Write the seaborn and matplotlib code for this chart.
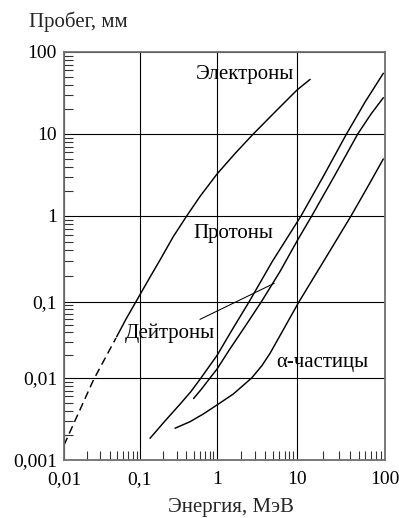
import numpy as np
import matplotlib
matplotlib.use("Agg")
import matplotlib.pyplot as plt
from matplotlib.ticker import FixedLocator, NullFormatter
import seaborn as sns

# ---------------- data ----------------
x_ticks = [0.01, 0.1, 1, 10, 100]
x_tick_labels = ["0,01", "0,1", "1", "10", "100"]
y_ticks = [0.001, 0.01, 0.1, 1, 10, 100]
y_tick_labels = ["0,001", "0,01", "0,1", "1", "10", "100"]

electron_dash_E = [0.01, 0.0244, 0.0483]
electron_dash_R = [0.00152, 0.00946, 0.0336]
electron_E = [0.0493, 0.0655, 0.0886, 0.135, 0.182, 0.270, 0.404, 0.601, 1.0,
              1.68, 2.84, 5.47, 10, 14.1]
electron_R = [0.0349, 0.0597, 0.101, 0.195, 0.308, 0.574, 1.0, 1.73, 3.25,
              5.78, 10, 19.1, 34.4, 46.4]

proton_E = [0.135, 0.211, 0.330, 0.459, 0.619, 1.0, 1.54, 2.51, 4.87, 11.1,
            20.0, 36.5, 59.3, 95.7]
proton_R = [0.00184, 0.00299, 0.00478, 0.00684, 0.01, 0.0198, 0.0428, 0.1,
            0.292, 1.0, 3.07, 10, 24.5, 55]

deuteron_E = [0.496, 0.638, 0.811, 1.0, 1.45, 2.24, 3.57, 6.13, 10, 14.7,
              27.0, 49, 69.3, 95.7]
deuteron_R = [0.00562, 0.00745, 0.01, 0.0131, 0.0241, 0.0476, 0.1, 0.226,
              0.511, 1.0, 3.16, 10, 17.5, 27.7]

alpha_E = [0.285, 0.446, 0.664, 1.0, 1.60, 2.71, 3.62, 4.60, 7.08, 10.5,
           20.8, 41.1, 62.4, 95.7]
alpha_R = [0.00244, 0.00293, 0.00364, 0.00469, 0.00638, 0.01, 0.0144, 0.0211,
           0.0473, 0.1, 0.316, 1.0, 2.19, 4.96]

pointer_E = [0.601, 5.2]
pointer_R = [0.0591, 0.165]

curve_labels = ["Электроны", "Протоны", "Дейтроны", "α-частицы"]
x_label = "Энергия, МэВ"
y_label = "Пробег, мм"

# ---------------- style ----------------
sns.set_theme(style="white")
plt.rcParams["font.family"] = ["Liberation Serif", "DejaVu Serif"]
plt.rcParams["axes.unicode_minus"] = False

W, H = 399, 518
fig = plt.figure(figsize=(W / 100, H / 100), dpi=100)
ax = fig.add_axes([64 / W, 1 - 460 / H, (385 - 64) / W, (460 - 52) / H])


# log scales calibrated to the (slightly uneven) decades of the drawing
def make_scale(knots_l, knots_p):
    kl = np.asarray(knots_l, float)
    kp = np.asarray(knots_p, float)
    s0 = (kp[1] - kp[0]) / (kl[1] - kl[0])
    s1 = (kp[-1] - kp[-2]) / (kl[-1] - kl[-2])

    def fwd(v):
        v = np.asarray(v, float)
        with np.errstate(divide="ignore", invalid="ignore"):
            l = np.log10(np.where(v > 0, v, np.nan))
        out = np.interp(l, kl, kp)
        out = np.where(l < kl[0], kp[0] + (l - kl[0]) * s0, out)
        out = np.where(l > kl[-1], kp[-1] + (l - kl[-1]) * s1, out)
        return out

    def inv(p):
        p = np.asarray(p, float)
        l = np.interp(p, kp, kl)
        l = np.where(p < kp[0], kl[0] + (p - kp[0]) / s0, l)
        l = np.where(p > kp[-1], kl[-1] + (p - kp[-1]) / s1, l)
        return 10.0 ** l

    return fwd, inv


ax.set_xscale("function", functions=make_scale([-2, -1, 0, 1, 2], [0, 76, 153, 233, 321]))
ax.set_yscale("function", functions=make_scale([-3, -2, -1, 0, 1, 2], [0, 82, 158, 244, 326, 408]))
ax.set_xlim(0.01, 100)
ax.set_ylim(0.001, 100)

# ---------------- curves ----------------
line_kw = dict(color="black", linewidth=1.05, estimator=None, sort=False, ax=ax, legend=False)
sns.lineplot(x=electron_dash_E, y=electron_dash_R, linestyle=(0, (5.5, 3.2)), **line_kw)
sns.lineplot(x=electron_E, y=electron_R, **line_kw)
sns.lineplot(x=proton_E, y=proton_R, **line_kw)
sns.lineplot(x=deuteron_E, y=deuteron_R, **line_kw)
sns.lineplot(x=alpha_E, y=alpha_R, **line_kw)
sns.lineplot(x=pointer_E, y=pointer_R, color="black", linewidth=0.75,
             estimator=None, sort=False, ax=ax, legend=False)

# ---------------- axes, grid, ticks ----------------
ax.set_xticks(x_ticks, x_tick_labels)
ax.set_yticks(y_ticks, y_tick_labels)
minor_x = [k * 10.0 ** e for e in range(-2, 2) for k in range(2, 10)]
minor_y = [k * 10.0 ** e for e in range(-3, 2) for k in range(2, 10)]
ax.xaxis.set_minor_locator(FixedLocator(minor_x))
ax.yaxis.set_minor_locator(FixedLocator(minor_y))
ax.xaxis.set_minor_formatter(NullFormatter())
ax.yaxis.set_minor_formatter(NullFormatter())

ax.grid(True, which="major", color="black", linewidth=0.8)
ax.tick_params(which="major", length=0, labelsize=14, colors="black")
ax.tick_params(axis="x", which="major", pad=8)
ax.tick_params(axis="y", which="major", pad=5)
ax.tick_params(which="minor", direction="in", length=6.8, width=0.8,
               color="#333333", bottom=True, left=True, top=False, right=False)
for sp in ax.spines.values():
    sp.set_color("#707070")
    sp.set_linewidth(1.3)
ax.set_xlabel("")
ax.set_ylabel("")

# ---------------- texts ----------------
txt_kw = dict(fontsize=15, ha="left", va="baseline", color="black")
ax.text(0.533, 46.5, curve_labels[0], **txt_kw)
ax.text(0.492, 0.554, curve_labels[1], **txt_kw)
ax.text(0.0635, 0.0333, curve_labels[2], **txt_kw)
ax.text(5.57, 0.0138, curve_labels[3], **txt_kw)

fig.text(29.3 / W, 1 - 26.7 / H, y_label, fontsize=15, ha="left", va="baseline")
fig.text(231 / W, 1 - 511.7 / H, x_label, fontsize=15, ha="center", va="baseline")

fig.savefig("out.png", dpi=100, facecolor="white")
